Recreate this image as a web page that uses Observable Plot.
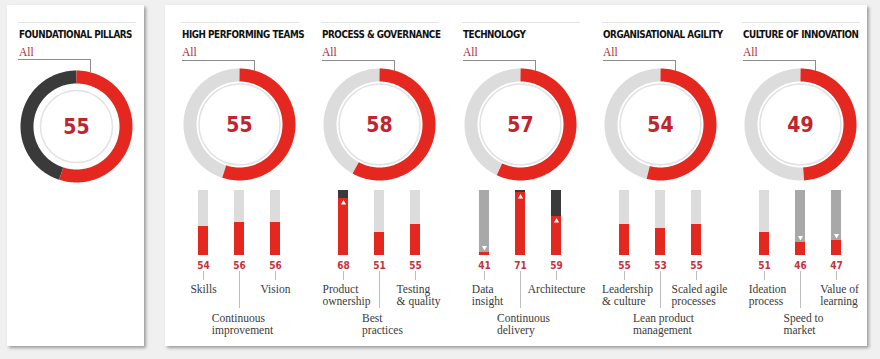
<!DOCTYPE html>
<html><head><meta charset="utf-8">
<script src="https://cdn.jsdelivr.net/npm/d3@7"></script>
<script src="https://cdn.jsdelivr.net/npm/@observablehq/plot@0.6"></script>
<style>
body{margin:0;background:#f0f0f0;}
#root{position:relative;width:880px;height:359px;background:#f0f0f0;overflow:hidden;}
.card{position:absolute;background:#fff;box-shadow:2px 2px 3px rgba(0,0,0,0.35);}
.sep{position:absolute;height:0;border-top:1px solid #e4e4e4;}
.title{position:absolute;font-family:'Liberation Sans Narrow','Arial Narrow','DejaVu Sans Condensed',sans-serif;font-weight:bold;font-size:9.8px;letter-spacing:-0.45px;line-height:12px;color:#111;white-space:nowrap;}
.all{position:absolute;font-family:'Liberation Serif','Times New Roman',serif;font-size:11.5px;line-height:12px;color:#b3283a;}
.conn{position:absolute;border-top:1px solid #8c8c8c;border-right:1px solid #8c8c8c;}
</style></head><body><div id="root"></div>
<script>
// ---- data ----
const overallTitle = "FOUNDATIONAL PILLARS";
const overallScore = 55;
const filterLabel = "All";
const pillars = ["HIGH PERFORMING TEAMS", "PROCESS & GOVERNANCE", "TECHNOLOGY", "ORGANISATIONAL AGILITY", "CULTURE OF INNOVATION"];
const pillarScores = [55, 58, 57, 54, 49];
const subLabels = [
  ["Skills", "Continuous\nimprovement", "Vision"],
  ["Product\nownership", "Best\npractices", "Testing\n& quality"],
  ["Data\ninsight", "Continuous\ndelivery", "Architecture"],
  ["Leadership\n& culture", "Lean product\nmanagement", "Scaled agile\nprocesses"],
  ["Ideation\nprocess", "Speed to\nmarket", "Value of\nlearning"]
];
const subScores = [[54, 56, 56], [68, 51, 55], [41, 71, 59], [55, 53, 55], [51, 46, 47]];
const subChange = [["", "", ""], ["up", "", ""], ["down", "up", "up"], ["", "", ""], ["", "down", "down"]];
const subDomain = [39.5, 72];

// ---- style ----
const RED = "#e4271f", DARK = "#3a3a3a", LIGHT = "#dcdcdc", MID = "#a8a8a8", NUMRED = "#c2232c", VALRED = "#c8303a";
const NARROW = "'Liberation Sans Narrow','Arial Narrow','DejaVu Sans Condensed',sans-serif";
const SERIF = "'Liberation Serif','Times New Roman',serif";
const root = document.getElementById("root");

function div(cls, css, text) {
  const d = document.createElement("div");
  d.className = cls;
  Object.assign(d.style, css);
  if (text != null) d.textContent = text;
  root.appendChild(d);
  return d;
}
function place(node, left, top) {
  node.style.position = "absolute";
  node.style.left = left + "px";
  node.style.top = top + "px";
  root.appendChild(node);
}
function arc(a0, a1, r) {
  const n = Math.max(2, Math.ceil(Math.abs(a1 - a0)));
  return d3.range(n + 1).map(i => {
    const a = (a0 + (a1 - a0) * i / n) * Math.PI / 180;
    return {x: r * Math.sin(a), y: r * Math.cos(a)};
  });
}
function donut(score, restColor, innerR) {
  const R = 56, W = 13, rm = R - W / 2, a = score * 3.6;
  return Plot.plot({
    width: 120, height: 120, margin: 0,
    x: {domain: [-60, 60], axis: null}, y: {domain: [-60, 60], axis: null},
    style: {background: "transparent", overflow: "visible"},
    marks: [
      Plot.line(arc(a, 360, rm), {x: "x", y: "y", stroke: restColor, strokeWidth: W, strokeLinecap: "butt", strokeLinejoin: "round"}),
      Plot.line(arc(0, a, rm), {x: "x", y: "y", stroke: RED, strokeWidth: W, strokeLinecap: "butt", strokeLinejoin: "round"}),
      Plot.dot([0], {x: 0, y: 0, r: innerR, stroke: "#e2e2e2", strokeWidth: 1.5, fill: "none"}),
      Plot.text([score], {x: 0, y: 0, dy: 1, text: d => String(d), fontSize: 21, fontWeight: "bold", fontFamily: NARROW, fill: NUMRED})
    ]
  });
}
const ctx = document.createElement("canvas").getContext("2d");
ctx.font = `11.5px ${SERIF}`;
function bars(labels, scores, changes) {
  const rows = labels.map((name, i) => ({name, value: scores[i], change: changes[i], i}));
  const [lo, hi] = subDomain;
  const marks = [
    Plot.barY(rows, {x: "name", y1: lo, y2: hi, insetLeft: 13, insetRight: 13,
      fill: d => d.change === "up" ? DARK : d.change === "down" ? MID : LIGHT}),
    Plot.barY(rows, {x: "name", y1: lo, y2: "value", insetLeft: 13, insetRight: 13, fill: RED}),
    Plot.dot(rows.filter(d => d.change === "up"), {x: "name", y: "value", symbol: "triangle", r: 1.9, fill: "white", dy: 4.5}),
    Plot.dot(rows.filter(d => d.change === "down"), {x: "name", y: "value", symbol: "triangle", r: 1.9, fill: "white", rotate: 180, dy: -5}),
    Plot.text(rows, {x: "name", y: lo, dy: 6, lineAnchor: "top", text: d => String(d.value), fill: VALRED, fontWeight: "bold", fontSize: 10, fontFamily: NARROW}),
    Plot.ruleX(rows.filter(d => d.i !== 1), {x: "name", y1: lo, y2: lo, insetTop: 16, insetBottom: -25, stroke: "#bdbdbd"}),
    Plot.ruleX(rows.filter(d => d.i === 1), {x: "name", y1: lo, y2: lo, insetTop: 16, insetBottom: -53, stroke: "#bdbdbd"})
  ];
  rows.forEach(d => {
    const lines = d.name.split("\n");
    const w = d3.max(lines, l => ctx.measureText(l).width);
    marks.push(Plot.text([d], {x: "name", y: lo, dy: d.i === 1 ? 58 : 29.5, dx: -w / 2 + (lines.length > 1 ? 3 : 0),
      textAnchor: "start", lineAnchor: "top", lineHeight: 1.02, text: "name", fill: "#3a3a3a", fontSize: 11.5, fontFamily: SERIF}));
  });
  return Plot.plot({
    width: 140, height: 160, marginTop: 5, marginBottom: 90, marginLeft: 16, marginRight: 16,
    x: {domain: labels, padding: 0, axis: null}, y: {domain: subDomain, axis: null},
    color: {type: "identity"},
    style: {background: "transparent", overflow: "visible"},
    marks
  });
}
function header(c, title) {
  div("sep", {left: (c - 58) + "px", top: "22px", width: "118px"});
  div("title", {left: (c - 57) + "px", top: "29.4px"}, title);
  div("all", {left: (c - 57) + "px", top: "45.6px"}, filterLabel);
}

// cards
div("card", {left: "7px", top: "5px", width: "137px", height: "341px"});
div("card", {left: "165px", top: "5px", width: "702px", height: "341px"});

// overall
{
  const c = 76, cy = 126;
  header(c, overallTitle);
  div("conn", {left: (c - 58) + "px", top: "58.5px", width: "72px", height: "12px"});
  place(donut(overallScore, DARK, 36), c - 60, cy - 60);
}
// pillars
pillars.forEach((p, i) => {
  const c = Math.round(239 + i * 140.25), cy = 124;
  header(c, p);
  div("conn", {left: (c - 57) + "px", top: "60px", width: "72px", height: "10px"});
  place(donut(pillarScores[i], LIGHT, 40.5), c - 60, cy - 60);
  place(bars(subLabels[i], subScores[i], subChange[i]), c - 70, 185);
});
</script></body></html>
